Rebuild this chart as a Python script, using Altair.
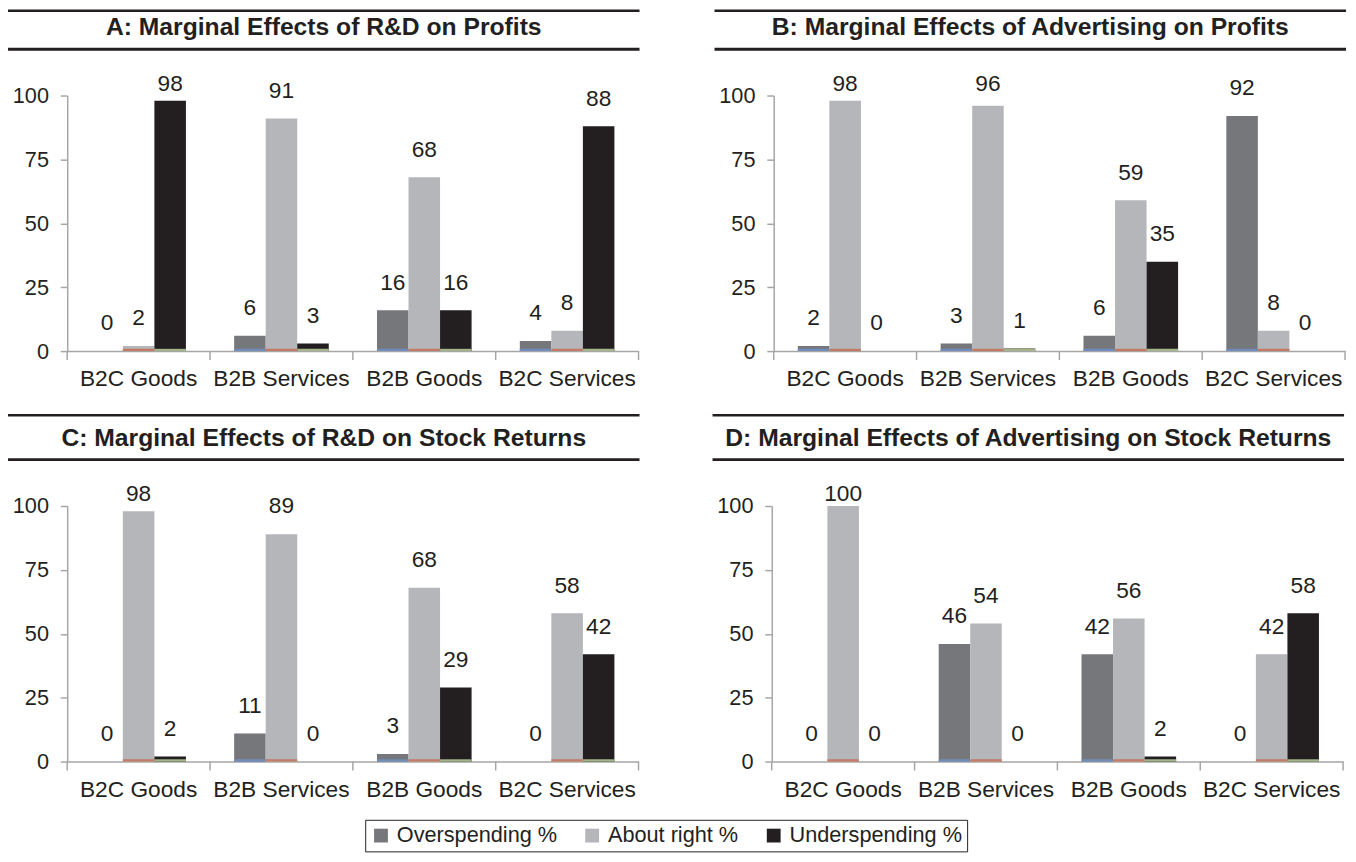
import altair as alt
import pandas as pd

categories = ["B2C Goods", "B2B Services", "B2B Goods", "B2C Services"]
series = ["Overspending %", "About right %", "Underspending %"]
titles = [
    "A: Marginal Effects of R&D on Profits",
    "B: Marginal Effects of Advertising on Profits",
    "C: Marginal Effects of R&D on Stock Returns",
    "D: Marginal Effects of Advertising on Stock Returns",
]

a_over = [0, 6, 16, 4]
a_right = [2, 91, 68, 8]
a_under = [98, 3, 16, 88]

b_over = [2, 3, 6, 92]
b_right = [98, 96, 59, 8]
b_under = [0, 1, 35, 0]

c_over = [0, 11, 3, 0]
c_right = [98, 89, 68, 58]
c_under = [2, 0, 29, 42]

d_over = [0, 46, 42, 0]
d_right = [100, 54, 56, 42]
d_under = [0, 0, 2, 58]

bar_colors = ["#76777b", "#b5b6ba", "#231f20"]
stripe_colors = ["#6f8cbd", "#c27a62", "#a4b58a"]

W, H = 579, 259
FONT = "Liberation Sans"
INK = "#231f20"
AXIS_GRAY = "#a6a6a6"


def make_panel(title, over, right, under, rule_top):
    rows = []
    for ci, c in enumerate(categories):
        for s, vals in zip(series, [over, right, under]):
            rows.append({"category": c, "series": s, "value": vals[ci]})
    df = pd.DataFrame(rows)
    base = alt.Chart(df)

    xaxis = alt.Axis(title=None, labelAngle=0, ticks=False, domain=True,
                     domainColor=AXIS_GRAY, domainWidth=1.5, labelFont=FONT,
                     labelFontSize=23, labelColor=INK, labelPadding=17)
    xscale = alt.Scale(domain=categories, paddingInner=0, paddingOuter=0)
    x = alt.X("category:N", sort=categories, scale=xscale, axis=xaxis)
    xo = alt.XOffset("series:N", sort=series,
                     scale=alt.Scale(domain=series, paddingOuter=0.765, paddingInner=0))
    yaxis = alt.Axis(title=None, values=[0, 25, 50, 75, 100], grid=False,
                     tickSize=7, tickColor=AXIS_GRAY, tickWidth=1.5,
                     domainColor=AXIS_GRAY, domainWidth=1.5, labelFont=FONT,
                     labelFontSize=22, labelColor=INK, labelPadding=12)
    yscale = alt.Scale(domain=[0, 100], nice=False)

    legend = alt.Legend(title=None, orient="none", legendX=302, legendY=734,
                        direction="horizontal", symbolType="square",
                        symbolSize=196, symbolStrokeWidth=0, labelFont=FONT,
                        labelFontSize=22, labelColor=INK, labelOffset=5,
                        labelLimit=400, columnPadding=24, padding=5,
                        strokeColor=INK)

    bars = base.mark_bar().encode(
        x=x, xOffset=xo,
        y=alt.Y("value:Q", scale=yscale, axis=yaxis),
        color=alt.Color("series:N", sort=series,
                        scale=alt.Scale(domain=series, range=bar_colors),
                        legend=legend),
    )
    stripes = base.transform_filter("datum.value > 0").transform_calculate(
        s="0.9"
    ).mark_bar().encode(
        x=x, xOffset=xo,
        y=alt.Y("s:Q", scale=yscale, axis=yaxis),
        fill=alt.Fill("series:N", sort=series,
                      scale=alt.Scale(domain=series, range=stripe_colors),
                      legend=None),
    )
    labels = base.transform_calculate(
        ly="min(datum.value + 10.8, 104.5)"
    ).mark_text(font=FONT, fontSize=23, color=INK, baseline="middle").encode(
        x=x, xOffset=xo,
        y=alt.Y("ly:Q", scale=yscale, axis=yaxis),
        text=alt.Text("value:Q"),
    )
    cat_df = pd.DataFrame({"category": categories})
    ticks = alt.Chart(cat_df).mark_rule(color=AXIS_GRAY, strokeWidth=1.5).encode(
        x=alt.X("category:N", sort=categories, scale=xscale, axis=xaxis, bandPosition=0),
        y=alt.value(H), y2=alt.value(H + 9),
    )
    last_tick = alt.Chart(cat_df).transform_filter(
        alt.datum.category == categories[-1]
    ).mark_rule(color=AXIS_GRAY, strokeWidth=1.5).encode(
        x=alt.X("category:N", sort=categories, scale=xscale, axis=xaxis, bandPosition=1),
        y=alt.value(H), y2=alt.value(H + 9),
    )
    deco = pd.DataFrame({"t": [title]})
    rule1 = alt.Chart(deco).mark_rule(color=INK, strokeWidth=2.5).encode(
        x=alt.value(-60), x2=alt.value(580), y=alt.value(rule_top))
    rule2 = alt.Chart(deco).mark_rule(color=INK, strokeWidth=3).encode(
        x=alt.value(-60), x2=alt.value(580), y=alt.value(-47))
    ttl = alt.Chart(deco).mark_text(font=FONT, fontSize=25, fontWeight="bold",
                                    color=INK, baseline="middle", align="center").encode(
        x=alt.value(260), y=alt.value(-69), text="t:N")

    return alt.layer(bars, stripes, labels, ticks, last_tick, rule1, rule2, ttl).properties(
        width=W, height=H)


pA = make_panel(titles[0], a_over, a_right, a_under, -86)
pB = make_panel(titles[1], b_over, b_right, b_under, -86)
pC = make_panel(titles[2], c_over, c_right, c_under, -92)
pD = make_panel(titles[3], d_over, d_right, d_under, -92)

top = alt.hconcat(pA, pB, spacing=72)
bottom = alt.hconcat(pC, pD, spacing=70)
chart = alt.vconcat(top, bottom, spacing=23).configure_view(stroke=None).properties(
    background="white", padding={"left": -2, "top": -5, "right": 0, "bottom": 0})

chart.save("out.html", embed_options={"renderer": "svg", "actions": False})
